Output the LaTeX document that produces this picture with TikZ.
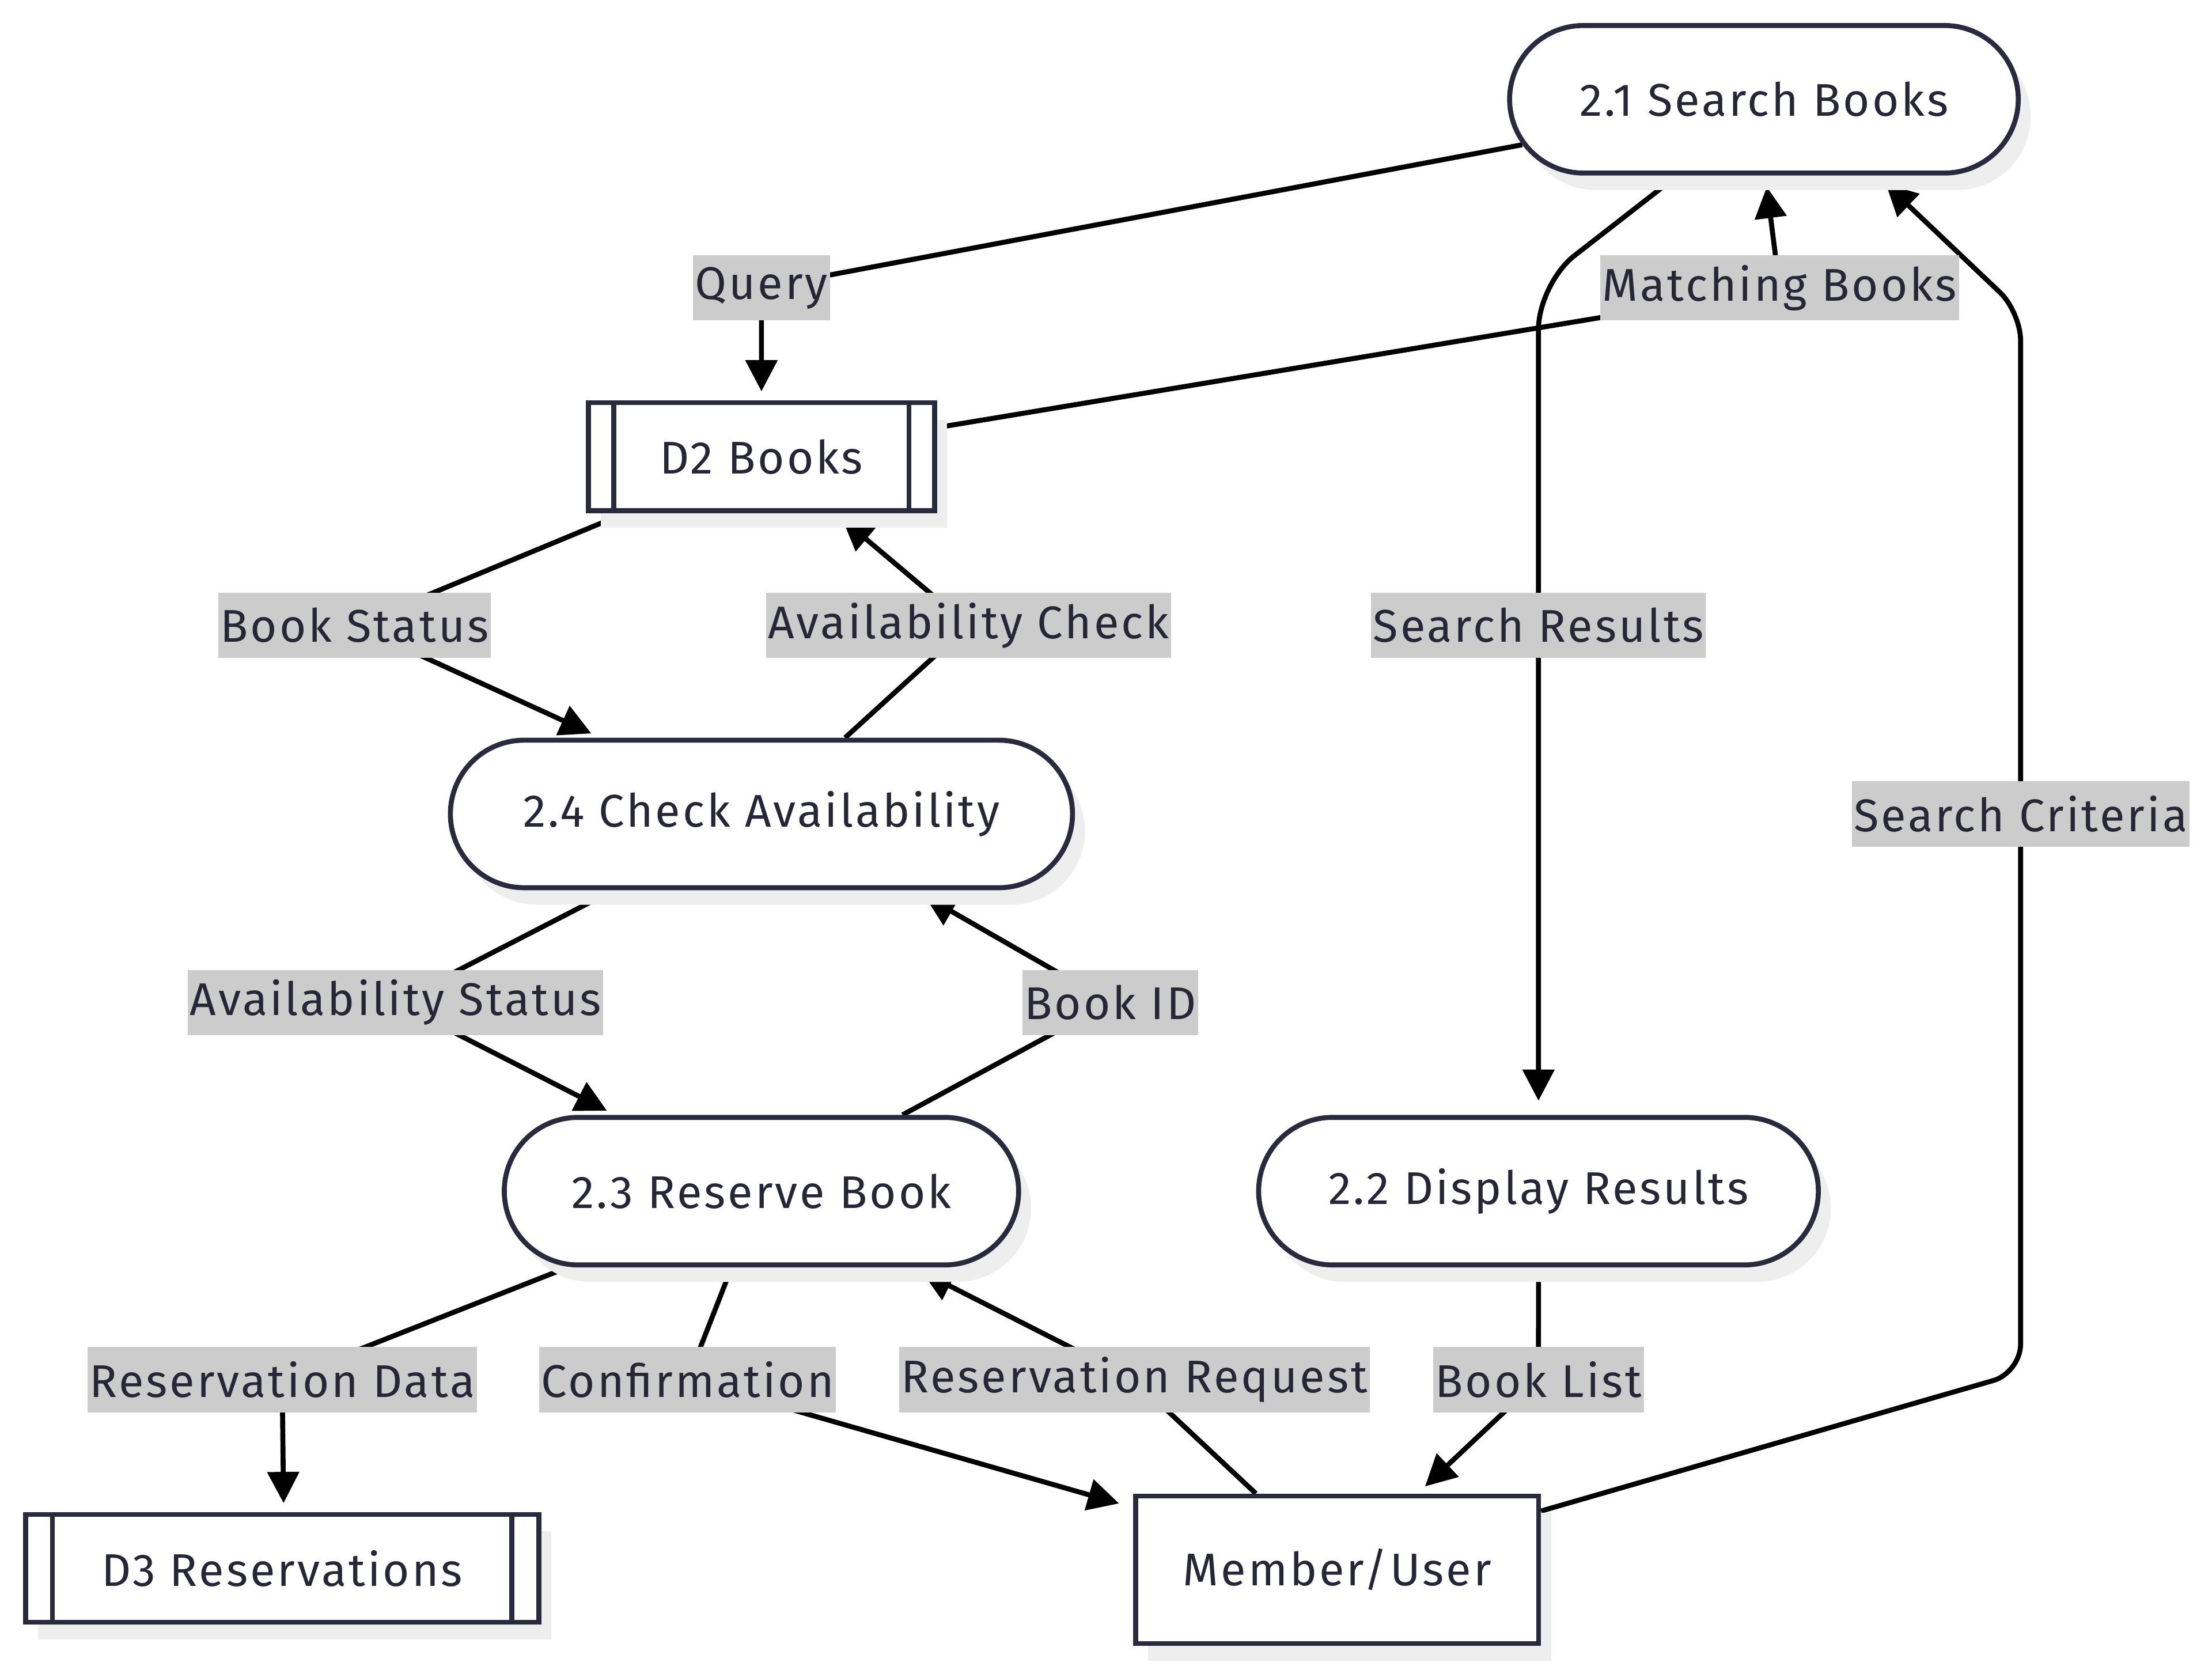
\documentclass[tikz,border=0pt]{standalone}
\usepackage{fontspec}
\setmainfont{Fira Sans}[LetterSpace=5]
\usetikzlibrary{shapes.misc,shadows,arrows.meta,calc,backgrounds}
\definecolor{bord}{HTML}{2A2A3E}
\definecolor{encre}{HTML}{262637}
\definecolor{etiqfond}{HTML}{CCCCCC}
\definecolor{ombregris}{HTML}{EEEEEE}
\begin{document}
\begin{tikzpicture}[x=0.025cm,y=-0.025cm]
\tikzset{ombre/.style={general shadow={fill=ombregris, shadow xshift=0.22cm, shadow yshift=-0.3cm}},
  boite/.style={draw=bord, line width=2.5pt, fill=white, text=encre, font=\fontsize{23}{27}\selectfont, ombre},
  proc/.style={boite, rounded rectangle, minimum height=2.6cm},
  stock/.style={boite, rectangle, outer sep=0pt, minimum height=1.9cm},
  entite/.style={boite, rectangle, minimum width=7.1cm, minimum height=2.6cm},
  etiq/.style={fill=etiqfond, text=encre, font=\fontsize{23}{27}\selectfont, inner xsep=1pt, inner ysep=0pt, minimum height=1.15cm},
  flux/.style={draw=black, line width=2.5pt, -{Triangle[length=0.55cm,width=0.55cm]}}}
\useasboundingbox (0,0) rectangle (1560,1174.5);
\node[proc, minimum width=9.2cm] (P21) at (1244,70) {2.1 Search Books};
\node[proc, minimum width=10.1cm] (P22) at (1085,840) {2.2 Display Results};
\node[proc, minimum width=9.3cm] (P23) at (537,840) {2.3 Reserve Book};
\node[proc, minimum width=11.2cm] (P24) at (537,574) {2.4 Check Availability};
\node[stock, minimum width=6.1cm] (D2) at (537,322) {D2 Books};
\node[stock, minimum width=9.05cm] (D3) at (199,1106) {D3 Reservations};
\node[entite] (U) at (943,1107) {Member/User};
\draw[bord, line width=2.5pt] ($(D2.north west)+(18,0)$) -- ($(D2.south west)+(18,0)$);
\draw[bord, line width=2.5pt] ($(D2.north east)+(-18,0)$) -- ($(D2.south east)+(-18,0)$);
\draw[bord, line width=2.5pt] ($(D3.north west)+(19,0)$) -- ($(D3.south west)+(19,0)$);
\draw[bord, line width=2.5pt] ($(D3.north east)+(-19,0)$) -- ($(D3.south east)+(-19,0)$);
\node[etiq] (eQuery) at (537,203) {Query};
\node[etiq] (eMatch) at (1255,203) {Matching Books};
\node[etiq] (eStatus) at (250,441) {Book Status};
\node[etiq] (eCheck) at (683,441) {Availability Check};
\node[etiq] (eResults) at (1085,441) {Search Results};
\node[etiq] (eCrit) at (1425,574) {Search Criteria};
\node[etiq] (eAvail) at (279,707) {Availability Status};
\node[etiq] (eBookID) at (783,707) {Book ID};
\node[etiq] (eResData) at (199,973) {Reservation Data};
\node[etiq] (eConfirm) at (485,973) {Confirmation};
\node[etiq] (eResReq) at (800,973) {Reservation Request};
\node[etiq] (eBookList) at (1085,973) {Book List};
\begin{scope}[on background layer]
\draw[flux] (P21) -- (eQuery.center) -- ($(D2.north)+(0,-8)$);
\draw[flux] (D2) -- (eMatch.center) -- ($(P21.south)+(2,8)$);
\draw[flux, rounded corners=0.8cm] ($(P21.south)+(-61,0)$) -- (1085,200) -- (eResults.center) -- ($(P22.north)+(0,-10)$);
\draw[flux, rounded corners=0.5cm] (U) -- (1425,968) -- (eCrit.center) -- (1425,220) -- ($(P21.south)+(86,6)$);
\draw[flux] (D2) -- (eStatus.center) -- ($(P24.north)+(-120,-3)$);
\draw[flux] (P24) -- (eCheck.center) -- ($(D2.south)+(57,6)$);
\draw[flux] (P24) -- (eAvail.center) -- ($(P23.north)+(-109,-3)$);
\draw[flux] (P23) -- (eBookID.center) -- ($(P24.south)+(115,4)$);
\draw[flux] (P23) -- (eResData.center) -- ($(D3.north)+(1,-8)$);
\draw[flux] (P23) -- (eConfirm.center) -- ($(U.north west)+(-10,7)$);
\draw[flux] (U) -- (eResReq.center) -- ($(P23.south)+(113,3)$);
\draw[flux] (P22) -- (eBookList.center) -- ($(U.north)+(62,-5)$);
\end{scope}
\end{tikzpicture}
\end{document}
